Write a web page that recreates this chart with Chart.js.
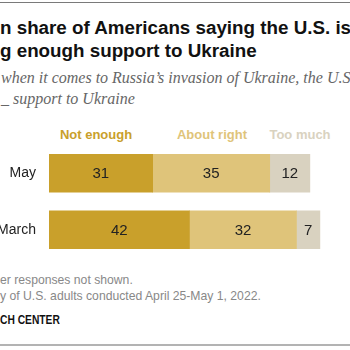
<!DOCTYPE html>
<html>
<head>
<meta charset="utf-8">
<script src="https://cdn.jsdelivr.net/npm/chart.js@4"></script>
<style>
  html, body { margin: 0; padding: 0; background: #fff; }
  body { width: 350px; height: 350px; position: relative; overflow: hidden; }
  .abs { position: absolute; white-space: nowrap; }
  #topline { left: 0; top: 2px; width: 350px; height: 1px; background: #7a7a7a; }
  #botline { left: 0; top: 344px; width: 350px; height: 2px; background: #b3b3b3; }
  #title { left: 0; top: 16px; font: bold 18.8px "Liberation Sans", Arial, sans-serif; line-height: 23px; color: #111; }
  #subtitle { left: 1px; top: 67px; font: italic 16px "Liberation Serif", serif; line-height: 21px; color: #666; }
  .leg { top: 127px; width: 120px; margin-left: -60px; text-align: center; font: bold 13px "Liberation Sans", Arial, sans-serif; line-height: 16px; }
  #notes { left: 0; top: 272px; font: 12.2px "Liberation Sans", Arial, sans-serif; line-height: 16px; color: #888; }
  #source { left: 0; top: 312px; font: bold 12.5px "Liberation Sans", Arial, sans-serif; line-height: 16px; color: #111; transform: scaleX(0.82); transform-origin: 0 0; }
  #chart { position: absolute; left: 0; top: 145px; width: 350px; height: 113px; }
</style>
</head>
<body>
<div class="abs" id="topline"></div>
<div class="abs" id="title">n share of Americans saying the U.S. is<br>g enough support to Ukraine</div>
<div class="abs" id="subtitle">when it comes to Russia’s invasion of Ukraine, the U.S. is<br>_ support to Ukraine</div>
<div class="abs leg" style="left:96px;color:#c9a02b">Not enough</div>
<div class="abs leg" style="left:212px;color:#dfc47a">About right</div>
<div class="abs leg" style="left:300px;color:#d9d2c0">Too much</div>
<canvas id="chart" width="350" height="113"></canvas>
<div class="abs" id="notes">er responses not shown.<br>y of U.S. adults conducted April 25-May 1, 2022.</div>
<div class="abs" id="source">CH CENTER</div>
<div class="abs" id="botline"></div>
<script>
const categories = ["May", "March"];
const notEnough = [31, 42];
const aboutRight = [35, 32];
const tooMuch = [12, 7];
const seriesNames = ["Not enough", "About right", "Too much"];
const colors = ["#c9a02b", "#dfc47a", "#d9d2c0"];

// value labels in the middle of each segment
const segmentLabels = {
  id: "segmentLabels",
  afterDatasetsDraw(chart) {
    const ctx = chart.ctx;
    ctx.save();
    ctx.font = '15px "Liberation Sans", Arial, sans-serif';
    ctx.fillStyle = "#222";
    ctx.textAlign = "center";
    ctx.textBaseline = "middle";
    chart.data.datasets.forEach((ds, i) => {
      chart.getDatasetMeta(i).data.forEach((bar, j) => {
        const p = bar.getProps(["x", "y", "base"], true);
        ctx.fillText(ds.data[j], (p.x + p.base) / 2, p.y + 1);
      });
    });
    ctx.restore();
  },
};

const data = {
  labels: categories,
  datasets: [notEnough, aboutRight, tooMuch].map((vals, i) => ({
    label: seriesNames[i],
    data: vals,
    backgroundColor: colors[i],
    borderWidth: 0,
    barThickness: 38,
  })),
};

new Chart(document.getElementById("chart"), {
  type: "bar",
  data: data,
  options: {
    indexAxis: "y",
    responsive: false,
    animation: false,
    layout: { padding: 0 },
    plugins: { legend: { display: false }, tooltip: { enabled: false } },
    scales: {
      x: { stacked: true, min: 0, max: 90, display: false },
      y: {
        stacked: true,
        grid: { display: false, drawTicks: false },
        border: { display: false },
        ticks: {
          padding: 13,
          color: "#222",
          font: { family: '"Liberation Sans", Arial, sans-serif', size: 14 },
        },
        afterFit: (scale) => {
          scale.width = 49;
          scale.paddingTop = 0;
          scale.paddingBottom = 0;
        },
      },
    },
  },
  plugins: [segmentLabels],
});
</script>
</body>
</html>
